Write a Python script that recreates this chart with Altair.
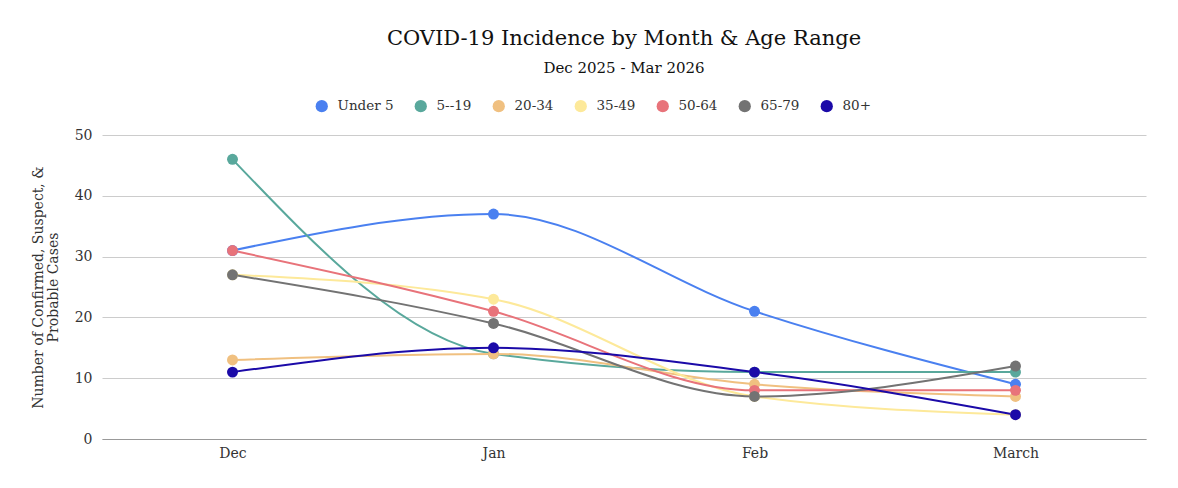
import altair as alt
import pandas as pd

months = ["Dec", "Jan", "Feb", "March"]
groups = ["Under 5", "5--19", "20-34", "35-49", "50-64", "65-79", "80+"]
colors = ["#4a80f0", "#59a89c", "#f0c080", "#fde99a", "#e8737a", "#737373", "#1b0aa8"]

under5 = [31, 37, 21, 9]
age5_19 = [46, 14, 11, 11]
age20_34 = [13, 14, 9, 7]
age35_49 = [27, 23, 7, 4]
age50_64 = [31, 21, 8, 8]
age65_79 = [27, 19, 7, 12]
age80p = [11, 15, 11, 4]

series = [under5, age5_19, age20_34, age35_49, age50_64, age65_79, age80p]
rows = []
for gi, (g, vals) in enumerate(zip(groups, series)):
    for mi, (m, v) in enumerate(zip(months, vals)):
        rows.append({"group": g, "month": m, "cases": v, "gi": gi})
df = pd.DataFrame(rows)

FONT = "DejaVu Serif"

x = alt.X("month:N", sort=months, title=None,
          scale=alt.Scale(paddingOuter=0.5),
          axis=alt.Axis(labelAngle=0, labelFontSize=14, labelColor="#333333",
                        labelFont=FONT, domainColor="#999999", ticks=False,
                        labelPadding=7, grid=False))
y = alt.Y("cases:Q", scale=alt.Scale(domain=[0, 50]),
          title=["Number of Confirmed, Suspect, &", "Probable Cases"],
          axis=alt.Axis(values=[0, 10, 20, 30, 40, 50], labelFontSize=14,
                        labelColor="#333333", labelFont=FONT, domain=False,
                        ticks=False, labelPadding=10, gridColor="#cccccc",
                        titleFont=FONT, titleFontSize=14, titleFontWeight="normal",
                        titleColor="#333333", titlePadding=14, titleLineHeight=15))
color = alt.Color("group:N", sort=groups,
                  scale=alt.Scale(domain=groups, range=colors),
                  legend=alt.Legend(orient="none", direction="horizontal",
                                    legendX=213, legendY=-36, title=None,
                                    symbolType="circle", symbolSize=150,
                                    symbolOpacity=1, labelFont=FONT,
                                    labelFontSize=13.5, labelColor="#333333",
                                    labelOffset=9,
                                    columnPadding=20, padding=0, columns=7,
                                    symbolStrokeWidth=0))

base = alt.Chart(df)
lines = base.mark_line(interpolate="monotone", strokeWidth=2).encode(
    x=x, y=y, color=color, order=alt.Order("gi:Q"))
points = base.mark_circle(size=120, opacity=1).encode(
    x=x, y=y, color=alt.Color("group:N", sort=groups,
                              scale=alt.Scale(domain=groups, range=colors), legend=None),
    order=alt.Order("gi:Q"))

chart = alt.layer(lines, points).properties(
    width=1044, height=304,
    title=alt.TitleParams("COVID-19 Incidence by Month & Age Range",
                          subtitle="Dec 2025 - Mar 2026", anchor="middle",
                          font=FONT, fontSize=21, fontWeight="normal", color="#111111",
                          subtitleFont=FONT, subtitleFontSize=15, subtitleColor="#111111",
                          subtitlePadding=7, offset=6, baseline="alphabetic"),
    autosize=alt.AutoSizeParams(type="none"),
    padding={"left": 94, "top": 127, "right": 24, "bottom": 40},
).configure_view(stroke=None)

chart.save("out.html", embed_options={"renderer": "svg", "actions": False})
